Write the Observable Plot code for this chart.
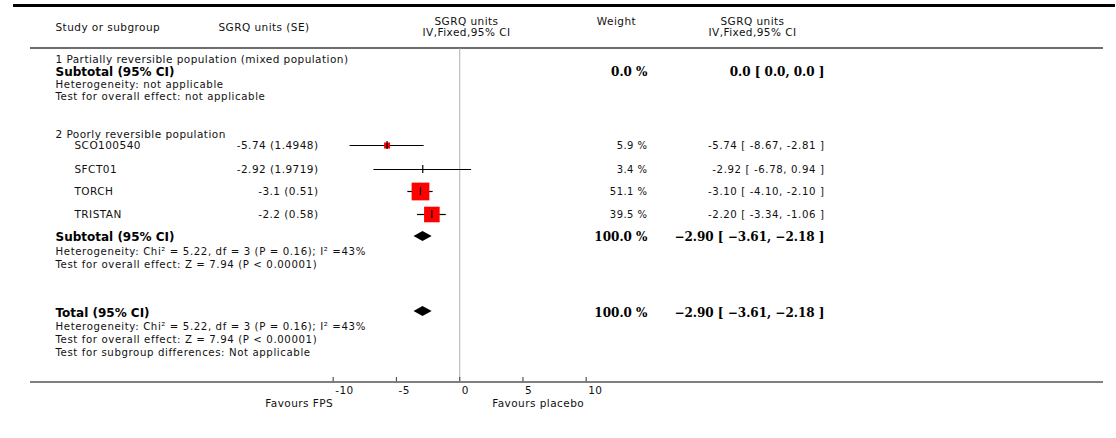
<!DOCTYPE html>
<html>
<head>
<meta charset="utf-8">
<script src="https://cdn.jsdelivr.net/npm/d3@7"></script>
<script src="https://cdn.jsdelivr.net/npm/@observablehq/plot@0.6"></script>
<style>
  body { margin: 0; background: #fff; }
  #chart svg { display: block; letter-spacing: 0.45px; background: #fff; }
  #chart svg text { white-space: pre; }
  #chart svg g[font-weight="bold"] { letter-spacing: 0; }
  #chart svg g[font-size="10.2"] { letter-spacing: 0.6px; }
</style>
<script>
// ---------------- DATA ----------------
const studies   = ["SCO100540", "SFCT01", "TORCH", "TRISTAN"];
const meanDiff  = [-5.74, -2.92, -3.1, -2.2];
const stdErr    = [1.4948, 1.9719, 0.51, 0.58];
const ciLow     = [-8.67, -6.78, -4.10, -3.34];
const ciHigh    = [-2.81, 0.94, -2.10, -1.06];
const weights   = [5.9, 3.4, 51.1, 39.5];

const summaryNames = ["Subtotal", "Total"];
const summaryEst   = [-2.90, -2.90];
const summaryLow   = [-3.61, -3.61];
const summaryHigh  = [-2.18, -2.18];
const summaryWeight = [100.0, 100.0];

const subgroupTitles = ["1 Partially reversible population (mixed population)", "2 Poorly reversible population"];
const headers = {
  study: "Study or subgroup", se: "SGRQ units (SE)",
  forest: ["SGRQ units", "IV,Fixed,95% CI"], weight: "Weight",
  effect: ["SGRQ units", "IV,Fixed,95% CI"]
};
const xTicks = [-10, -5, 0, 5, 10];
const favours = ["Favours FPS", "Favours placebo"];

// ---------------- LAYOUT (pixels) ----------------
const W = 1116, H = 438;
const xRange = [332.7, 585.7];
const col = { study: 55, studyIndent: 74, se: 318, seHead: 218, weight: 647, effect: 824, forestHead: 466, weightHead: 616, effectHead: 752 };
const rowY = {
  head1: 21, head2: 32, headMid: 27,
  g1Title: 59.5, g1Sub: 71.5, g1Het: 84, g1Test: 96,
  g2Title: 134, studies: [145, 169, 191, 214], g2Sub: 237, g2Het: 251, g2Test: 264,
  tot: 313, totHet: 326, totTest: 339, totSub: 352,
  topLine: 5, headLine: 47.5, axis: 381.5, tickLabel: 390, favours: 403
};
const font = "'DejaVu Sans', sans-serif";
const boldSerif = "'DejaVu Serif', serif";

function draw() {
  // column pixel positions expressed on the shared x scale
  const xs = d3.scaleLinear().domain([xTicks[0], xTicks[xTicks.length - 1]]).range(xRange);
  const at = px => () => xs.invert(px);

  const fmt2 = v => v.toFixed(2);
  const studyRows = studies.map((s, i) => ({
    name: s, est: meanDiff[i], lo: ciLow[i], hi: ciHigh[i], w: weights[i], y: rowY.studies[i],
    seLabel: `${meanDiff[i]} (${stdErr[i]})`,
    wLabel: `${weights[i].toFixed(1)} %`,
    eLabel: `${fmt2(meanDiff[i])} [ ${fmt2(ciLow[i])}, ${fmt2(ciHigh[i])} ]`
  }));
  const minus = s => s.replace(/-/g, "\u2212");
  const summaryRows = summaryNames.map((n, i) => ({
    name: n, est: summaryEst[i], lo: summaryLow[i], hi: summaryHigh[i],
    y: i === 0 ? rowY.g2Sub - 1 : rowY.tot - 2,
    wLabel: `${summaryWeight[i].toFixed(1)} %`,
    eLabel: minus(`${fmt2(summaryEst[i])} [ ${fmt2(summaryLow[i])}, ${fmt2(summaryHigh[i])} ]`)
  }));
  const diamondPts = summaryRows.flatMap((d, i) => [
    { g: i, x: d.lo, y1: d.y, y2: d.y },
    { g: i, x: d.est, y1: d.y - 5, y2: d.y + 5 },
    { g: i, x: d.hi, y1: d.y, y2: d.y }
  ]);

  const titleLines = [
    { t: subgroupTitles[0], y: rowY.g1Title },
    { t: subgroupTitles[1], y: rowY.g2Title }
  ];
  const hetText = "Heterogeneity: Chi\u00b2 = 5.22, df = 3 (P = 0.16); I\u00b2 =43%";
  const testText = "Test for overall effect: Z = 7.94 (P \u003c 0.00001)";
  const noteLines = [
    { t: "Heterogeneity: not applicable", y: rowY.g1Het },
    { t: "Test for overall effect: not applicable", y: rowY.g1Test },
    { t: hetText, y: rowY.g2Het },
    { t: testText, y: rowY.g2Test },
    { t: hetText, y: rowY.totHet },
    { t: testText, y: rowY.totTest },
    { t: "Test for subgroup differences: Not applicable", y: rowY.totSub }
  ];
  const boldLeft = [
    { t: "Subtotal (95% CI)", y: rowY.g1Sub },
    { t: "Subtotal (95% CI)", y: rowY.g2Sub },
    { t: "Total (95% CI)", y: rowY.tot }
  ];
  const boldRight = [
    { w: "0.0 %", e: "0.0 [ 0.0, 0.0 ]", y: rowY.g1Sub },
    ...summaryRows.map((d, i) => ({ w: d.wLabel, e: d.eLabel, y: i === 0 ? rowY.g2Sub : rowY.tot }))
  ];

  const txt = (data, opts) => Plot.text(data, { lineAnchor: "middle", textAnchor: "start", fontFamily: font, fill: "#111", ...opts });

  const plot = Plot.plot({
    width: W, height: H,
    marginLeft: 0, marginRight: 0, marginTop: 0, marginBottom: 0,
    x: { type: "linear", domain: xs.domain(), range: xRange, axis: null },
    y: { type: "identity" },
    r: { type: "sqrt", domain: [0, 51.1], range: [0, 10] },
    marks: [
      // frame lines
      Plot.ruleY([rowY.topLine], { stroke: "#000", strokeWidth: 3, insetLeft: 13, insetRight: 1 }),
      Plot.ruleY([rowY.headLine], { stroke: "#6e6e6e", strokeWidth: 2, insetLeft: 30, insetRight: 13 }),
      Plot.ruleY([rowY.axis], { stroke: "#555", strokeWidth: 1.6, insetLeft: 30, insetRight: 13 }),
      // zero line
      Plot.ruleX([0], { y1: rowY.headLine + 1, y2: rowY.axis, stroke: "#bdbdbd", strokeWidth: 1.2 }),
      // header
      txt([headers.study], { x: at(col.study), y: () => rowY.headMid, text: d => d, fontSize: 10.5 }),
      txt([headers.se], { x: at(col.seHead), y: () => rowY.headMid, text: d => d, fontSize: 10.5 }),
      txt(headers.forest, { x: at(col.forestHead), y: (d, i) => i ? rowY.head2 : rowY.head1, text: d => d, textAnchor: "middle", fontSize: 10.5 }),
      txt([headers.weight], { x: at(col.weightHead), y: () => rowY.head1, text: d => d, textAnchor: "middle", fontSize: 10.5 }),
      txt(headers.effect, { x: at(col.effectHead), y: (d, i) => i ? rowY.head2 : rowY.head1, text: d => d, textAnchor: "middle", fontSize: 10.5 }),
      // left text
      txt(titleLines, { x: at(col.study), y: "y", text: "t", fontSize: 10.5 }),
      txt(noteLines, { x: at(col.study), y: "y", text: "t", fontSize: 10.2 }),
      txt(boldLeft, { x: at(col.study), y: "y", text: "t", fontSize: 12, fontWeight: "bold", fill: "#000" }),
      // study rows
      txt(studyRows, { x: at(col.studyIndent), y: "y", text: "name", fontSize: 10.5 }),
      txt(studyRows, { x: at(col.se), y: "y", text: "seLabel", textAnchor: "end", fontSize: 10.5 }),
      txt(studyRows, { x: at(col.weight), y: "y", text: "wLabel", textAnchor: "end", fontSize: 10 }),
      txt(studyRows, { x: at(col.effect), y: "y", text: "eLabel", textAnchor: "end", fontSize: 10.2 }),
      // bold right columns
      txt(boldRight, { x: at(col.weight), y: "y", text: "w", textAnchor: "end", fontSize: 12, fontWeight: "bold", fontFamily: boldSerif, fill: "#000" }),
      txt(boldRight, { x: at(col.effect), y: "y", text: "e", textAnchor: "end", fontSize: 12, fontWeight: "bold", fontFamily: boldSerif, fill: "#000" }),
      // forest: CI lines, squares, point ticks
      Plot.ruleY(studyRows, { y: "y", x1: "lo", x2: "hi", stroke: "#000", strokeWidth: 1.2 }),
      Plot.dot(studyRows.filter(d => d.w > 5), { x: "est", y: "y", r: "w", symbol: "square", fill: "#ff0000" }),
      Plot.ruleX(studyRows, { x: "est", y1: d => d.y - 4, y2: d => d.y + 4, stroke: "#000", strokeWidth: 1.2 }),
      // diamonds
      Plot.areaY(diamondPts, { x: "x", y1: "y1", y2: "y2", z: "g", fill: "#000", curve: "linear" }),
      // axis ticks + labels
      Plot.ruleX(xTicks, { x: d => d, y1: rowY.axis - 4.5, y2: rowY.axis, stroke: "#555", strokeWidth: 1.2 }),
      Plot.text(xTicks, { x: d => d, y: () => rowY.tickLabel, text: d => String(d), textAnchor: "start", dx: 2, fontSize: 10.5, fontFamily: font, fill: "#111" }),
      Plot.text([favours[0]], { x: () => xTicks[0], y: () => rowY.favours, text: d => d, textAnchor: "end", fontSize: 10.5, fontFamily: font, fill: "#111" }),
      Plot.text([favours[1]], { x: () => xTicks[xTicks.length - 1], y: () => rowY.favours, text: d => d, textAnchor: "end", dx: -2, fontSize: 10.5, fontFamily: font, fill: "#111" })
    ]
  });
  // Plot's embedded <style> block is replaced by the equivalent rules in the page <style>
  plot.querySelectorAll("style").forEach(s => s.remove());
  document.getElementById("chart").appendChild(plot);
}
document.addEventListener("DOMContentLoaded", draw);
</script>
</head>
<body>
<div id="chart"></div>
</body>
</html>
